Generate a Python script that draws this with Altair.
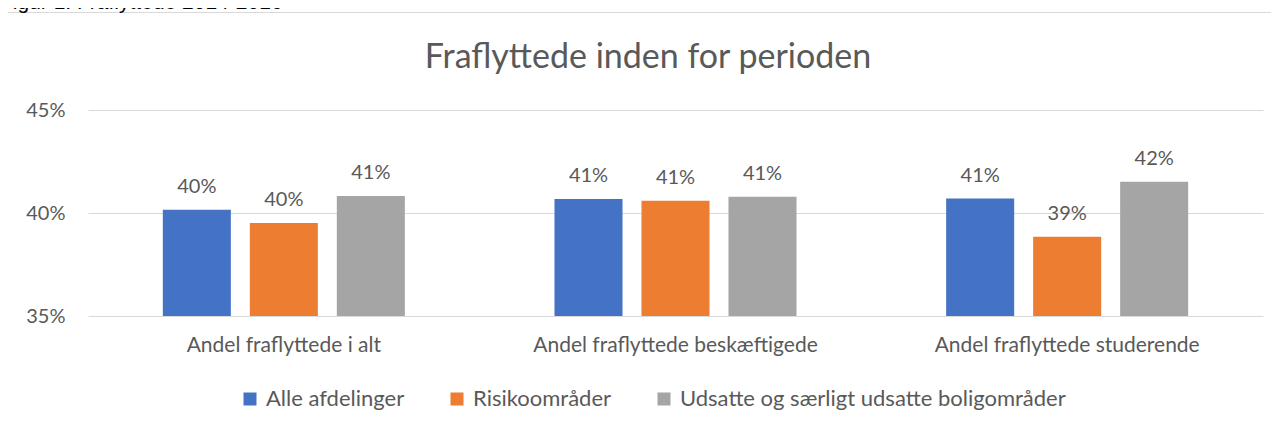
import altair as alt
import pandas as pd

categories = ["Andel fraflyttede i alt", "Andel fraflyttede beskæftigede", "Andel fraflyttede studerende"]
series = ["Alle afdelinger", "Risikoområder", "Udsatte og særligt udsatte boligområder"]
alle = [0.4016, 0.4068, 0.4070]
risiko = [0.3952, 0.4060, 0.3885]
udsatte = [0.4083, 0.4079, 0.4152]
colors = ["#4472C4", "#ED7D31", "#A5A5A5"]
y_ticks = [0.35, 0.40, 0.45]
title_text = "Fraflyttede inden for perioden"
header_text = "Figur 1: Fraflyttede 2014-2016"

rows = []
for s, vals in zip(series, [alle, risiko, udsatte]):
    for c, v in zip(categories, vals):
        rows.append({"Kategori": c, "Serie": s, "Andel": v})
df = pd.DataFrame(rows)

FONT = "Lato"
GREY = "#595959"

x_enc = alt.X("Kategori:N", sort=categories,
              scale=alt.Scale(paddingInner=0, paddingOuter=0),
              axis=alt.Axis(title=None, labelAngle=0, ticks=False, domain=False,
                            labelFontSize=21, labelColor=GREY, labelFont=FONT,
                            labelPadding=18, labelLimit=400))
xo_enc = alt.XOffset("Serie:N", sort=series,
                     scale=alt.Scale(paddingInner=0.218, paddingOuter=0.86))
y_enc = alt.Y("Andel:Q",
              scale=alt.Scale(domain=[0.35, 0.45], zero=False, nice=False),
              axis=alt.Axis(title=None, values=y_ticks, format=".0%", ticks=False,
                            domain=False, labelFontSize=20, labelColor=GREY,
                            labelFont=FONT, labelPadding=23,
                            gridColor="#D9D9D9", gridWidth=1))

base = alt.Chart(df)

bars = base.mark_bar().encode(
    x=x_enc,
    xOffset=xo_enc,
    y=y_enc,
    y2=alt.datum(0.35),
    color=alt.Color("Serie:N", sort=series,
                    scale=alt.Scale(domain=series, range=colors),
                    legend=alt.Legend(title=None, orient="none", direction="horizontal",
                                      legendX=151, legendY=278,
                                      symbolType="square", symbolSize=169,
                                      symbolStrokeWidth=0, labelFontSize=22,
                                      labelFont=FONT, labelColor=GREY,
                                      labelOffset=5, columnPadding=41,
                                      labelLimit=500)),
)

labels = base.mark_text(dy=-17, baseline="alphabetic", fontSize=20,
                        font=FONT, color=GREY).encode(
    x=alt.X("Kategori:N", sort=categories),
    xOffset=alt.XOffset("Serie:N", sort=series),
    y=alt.Y("Andel:Q"),
    text=alt.Text("Andel:Q", format=".0%"),
)

border = alt.Chart(pd.DataFrame({"b": [1]})).mark_rect(
    fill=None, stroke="#D9D9D9", strokeWidth=1
).encode(x=alt.value(-87.5), x2=alt.value(1300), y=alt.value(-97.5), y2=alt.value(400))

header = alt.Chart(pd.DataFrame({"t": [header_text]})).mark_text(
    align="left", baseline="alphabetic", fontSize=21, font="Liberation Sans", color="#000000"
).encode(text="t:N", x=alt.value(-88), y=alt.value(-101))

title = alt.Chart(pd.DataFrame({"t": [title_text]})).mark_text(
    align="center", baseline="alphabetic", fontSize=34, font=FONT, color=GREY
).encode(text="t:N", x=alt.value(560), y=alt.value(-42))

chart = alt.layer(border, bars, labels, header, title).properties(
    width=1175,
    height=206,
    padding={"left": 80, "top": 102, "right": 8, "bottom": 100},
    autosize=alt.AutoSizeParams(type="none"),
).configure_view(stroke=None).resolve_scale(x="shared")

chart.save("out.html", embed_options={"renderer": "svg", "actions": False})
